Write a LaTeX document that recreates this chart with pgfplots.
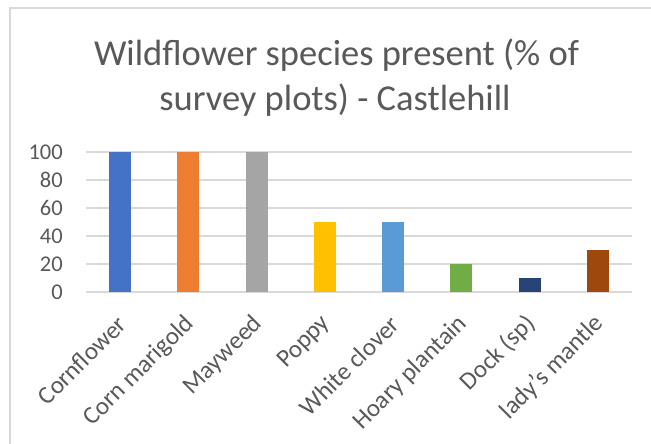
\documentclass[border=0pt]{standalone}
\usepackage{pgfplots}
\pgfplotsset{compat=1.18}
\usepackage{fontspec}
\setmainfont{Carlito}
\definecolor{gridgray}{HTML}{D9D9D9}
\definecolor{textgray}{HTML}{595959}
\definecolor{c1}{HTML}{4472C4}
\definecolor{c2}{HTML}{ED7D31}
\definecolor{c3}{HTML}{A5A5A5}
\definecolor{c4}{HTML}{FFC000}
\definecolor{c5}{HTML}{5B9BD5}
\definecolor{c6}{HTML}{70AD47}
\definecolor{c7}{HTML}{264478}
\definecolor{c8}{HTML}{9E480E}
\begin{document}
\begin{tikzpicture}
\useasboundingbox (0pt,0pt) rectangle (651pt,444pt);
\fill[white] (0pt,0pt) rectangle (651pt,444pt);
\draw[gridgray, line width=1.4pt] (10pt,0pt) -- (10pt,436pt) -- (651pt,436pt);
\node[anchor=base, text=textgray, font=\fontsize{36.5}{44}\selectfont, inner sep=0pt] at (336.5pt,378pt) {Wildflower species present (\% of};
\node[anchor=base, text=textgray, font=\fontsize{36.5}{44}\selectfont, inner sep=0pt] at (335pt,333pt) {survey plots) - Castlehill};
\begin{axis}[
  at={(86pt,152pt)}, anchor=south west,
  scale only axis,
  width=546pt, height=140pt,
  xmin=-0.5, xmax=7.5,
  ymin=0, ymax=100,
  ytick={0,20,...,100},
  xtick={0,...,7},
  xticklabels={Cornflower,Corn marigold,Mayweed,Poppy,White clover,Hoary plantain,Dock (sp),lady's mantle},
  axis line style={draw=none},
  major tick length=0pt,
  ymajorgrids,
  major grid style={gridgray, line width=1.5pt},
  /pgf/number format/assume math mode=true,
  ticklabel style={text=textgray, inner sep=0pt},
  yticklabel style={font=\fontsize{22.5}{26}\selectfont, anchor=east, xshift=-23pt},
  xticklabel style={font=\fontsize{25}{30}\selectfont, xshift=2pt, yshift=-28pt, rotate=45, anchor=east},
  ybar, bar width=22pt, bar shift=0pt,
  clip=false,
]
\addplot[fill=c1, draw=none] coordinates {(0,100)};
\addplot[fill=c2, draw=none] coordinates {(1,100)};
\addplot[fill=c3, draw=none] coordinates {(2,100)};
\addplot[fill=c4, draw=none] coordinates {(3,50)};
\addplot[fill=c5, draw=none] coordinates {(4,50)};
\addplot[fill=c6, draw=none] coordinates {(5,20)};
\addplot[fill=c7, draw=none] coordinates {(6,10)};
\addplot[fill=c8, draw=none] coordinates {(7,30)};
\end{axis}
\end{tikzpicture}
\end{document}
